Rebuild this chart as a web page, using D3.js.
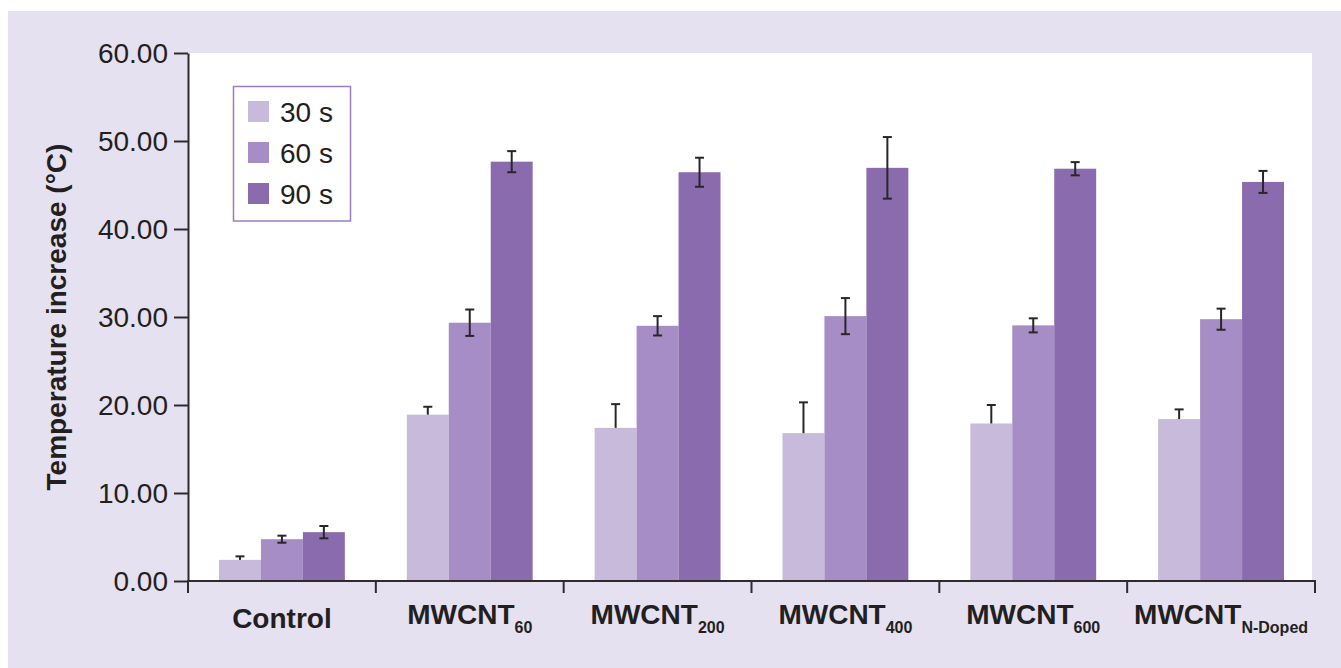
<!DOCTYPE html>
<html>
<head>
<meta charset="utf-8">
<script src="https://cdn.jsdelivr.net/npm/d3@7"></script>
<style>
  html, body { margin: 0; padding: 0; background: #ffffff; }
  svg { display: block; font-family: "Liberation Sans", Arial, Helvetica, sans-serif; }
</style>
</head>
<body>
<svg id="chart" width="1341" height="668"></svg>
<script>
// Sample groups (main label + subscript)
const categories = ["Control", "MWCNT60", "MWCNT200", "MWCNT400", "MWCNT600", "MWCNTN-Doped"];
const catMain = ["Control", "MWCNT", "MWCNT", "MWCNT", "MWCNT", "MWCNT"];
const catSub = ["", "60", "200", "400", "600", "N-Doped"];

// Irradiation times
const seriesNames = ["30 s", "60 s", "90 s"];

// Mean temperature increase (°C) and error per time point
const values30 = [2.4, 18.9, 17.4, 16.8, 17.9, 18.4];
const errors30 = [0.4, 0.9, 2.7, 3.5, 2.1, 1.1];
const values60 = [4.75, 29.35, 29.0, 30.1, 29.05, 29.75];
const errors60 = [0.4, 1.5, 1.1, 2.05, 0.8, 1.2];
const values90 = [5.55, 47.65, 46.45, 46.95, 46.85, 45.35];
const errors90 = [0.7, 1.2, 1.65, 3.5, 0.75, 1.25];

const yTicks = [0, 10, 20, 30, 40, 50, 60];

const colors = ["#c7badb", "#a68dc5", "#8a6bae"];
const inkColor = "#231f20";
const axisColor = "#2e2a2e";

const seriesValues = [values30, values60, values90];
const seriesErrors = [errors30, errors60, errors90];

const svg = d3.select("#chart");

// Panel background
svg.append("rect")
  .attr("x", 8).attr("y", 11)
  .attr("width", 1341 - 8).attr("height", 668 - 11)
  .attr("fill", "#e5e1f0");

const plot = { left: 188, right: 1315, top: 53, bottom: 581 };

const x0 = d3.scaleBand()
  .domain(categories)
  .range([plot.left, plot.right])
  .paddingInner(0).paddingOuter(0);

const groupWidth = x0.bandwidth() * 0.67;
const x1 = d3.scaleBand()
  .domain(seriesNames)
  .range([0, groupWidth])
  .padding(0);

const y = d3.scaleLinear().domain([0, 60]).range([plot.bottom, plot.top]);

// White plotting area
svg.append("rect")
  .attr("x", plot.left).attr("y", plot.top)
  .attr("width", 1312 - plot.left).attr("height", plot.bottom - plot.top)
  .attr("fill", "#ffffff");

// Bars
const rows = [];
categories.forEach((c, i) => {
  seriesNames.forEach((s, j) => {
    rows.push({ cat: c, series: s, j: j, value: seriesValues[j][i], err: seriesErrors[j][i] });
  });
});

const groupOffset = (x0.bandwidth() - groupWidth) / 2;

svg.append("g").selectAll("rect")
  .data(rows)
  .join("rect")
  .attr("x", d => x0(d.cat) + groupOffset + x1(d.series))
  .attr("y", d => y(d.value))
  .attr("width", x1.bandwidth())
  .attr("height", d => y(0) - y(d.value))
  .attr("fill", d => colors[d.j]);

// Error bars (30 s shows upper whisker only)
const capHalf = 4.5;
const eg = svg.append("g")
  .attr("stroke", "#2a2628")
  .attr("stroke-width", 2)
  .attr("fill", "none");

rows.forEach(d => {
  const cx = x0(d.cat) + groupOffset + x1(d.series) + x1.bandwidth() / 2;
  const top = y(d.value + d.err);
  const bottom = d.j === 0 ? y(d.value) : y(d.value - d.err);
  eg.append("line").attr("x1", cx).attr("x2", cx).attr("y1", top).attr("y2", bottom);
  eg.append("line").attr("x1", cx - capHalf).attr("x2", cx + capHalf).attr("y1", top).attr("y2", top);
  if (d.j !== 0) {
    eg.append("line").attr("x1", cx - capHalf).attr("x2", cx + capHalf).attr("y1", bottom).attr("y2", bottom);
  }
});

// Y axis
const yAxis = svg.append("g")
  .attr("transform", `translate(${plot.left},0)`)
  .call(d3.axisLeft(y)
    .tickValues(yTicks)
    .tickSize(14)
    .tickSizeOuter(0)
    .tickPadding(6)
    .tickFormat(d3.format(".2f")));
yAxis.select(".domain").attr("stroke", axisColor).attr("stroke-width", 2);
yAxis.selectAll(".tick line").attr("stroke", axisColor).attr("stroke-width", 2);
yAxis.selectAll(".tick text")
  .attr("fill", inkColor)
  .style("font-size", "28px")
  .attr("dy", "0.35em");

// X axis with boundary ticks between groups
const boundaries = categories.map(c => x0(c)).concat([x0(categories[categories.length - 1]) + x0.bandwidth()]);
const xAxisG = svg.append("g").attr("stroke", axisColor).attr("stroke-width", 2);
xAxisG.append("line")
  .attr("x1", plot.left - 1).attr("x2", plot.right + 1)
  .attr("y1", plot.bottom).attr("y2", plot.bottom);
xAxisG.selectAll("line.bt")
  .data(boundaries)
  .join("line")
  .attr("class", "bt")
  .attr("x1", d => d).attr("x2", d => d)
  .attr("y1", plot.bottom).attr("y2", plot.bottom + 12);

// Category labels with subscripts
const labels = svg.append("g")
  .attr("fill", inkColor)
  .attr("font-weight", "bold")
  .attr("text-anchor", "middle");

categories.forEach((c, i) => {
  const t = labels.append("text")
    .attr("x", x0(c) + x0.bandwidth() / 2)
    .attr("y", catSub[i] ? 624 : 628)
    .style("font-size", "28px");
  t.append("tspan").text(catMain[i]);
  if (catSub[i]) {
    t.append("tspan")
      .attr("dy", 9)
      .style("font-size", "16px")
      .text(catSub[i]);
  }
});

// Y axis title
svg.append("text")
  .attr("transform", `translate(66,${(plot.top + plot.bottom) / 2}) rotate(-90)`)
  .attr("text-anchor", "middle")
  .attr("fill", inkColor)
  .attr("font-weight", "bold")
  .style("font-size", "28px")
  .text("Temperature increase (°C)");

// Legend
const legend = svg.append("g");
legend.append("rect")
  .attr("x", 233.5).attr("y", 86.5)
  .attr("width", 117).attr("height", 134.5)
  .attr("fill", "#ffffff")
  .attr("stroke", "#9b7dc3")
  .attr("stroke-width", 1.5);

seriesNames.forEach((s, j) => {
  const yy = 101 + j * 41;
  legend.append("rect")
    .attr("x", 248).attr("y", yy)
    .attr("width", 21).attr("height", 21)
    .attr("fill", colors[j]);
  legend.append("text")
    .attr("x", 280).attr("y", yy + 20.5)
    .attr("fill", inkColor)
    .style("font-size", "28px")
    .text(s);
});
</script>
</body>
</html>
